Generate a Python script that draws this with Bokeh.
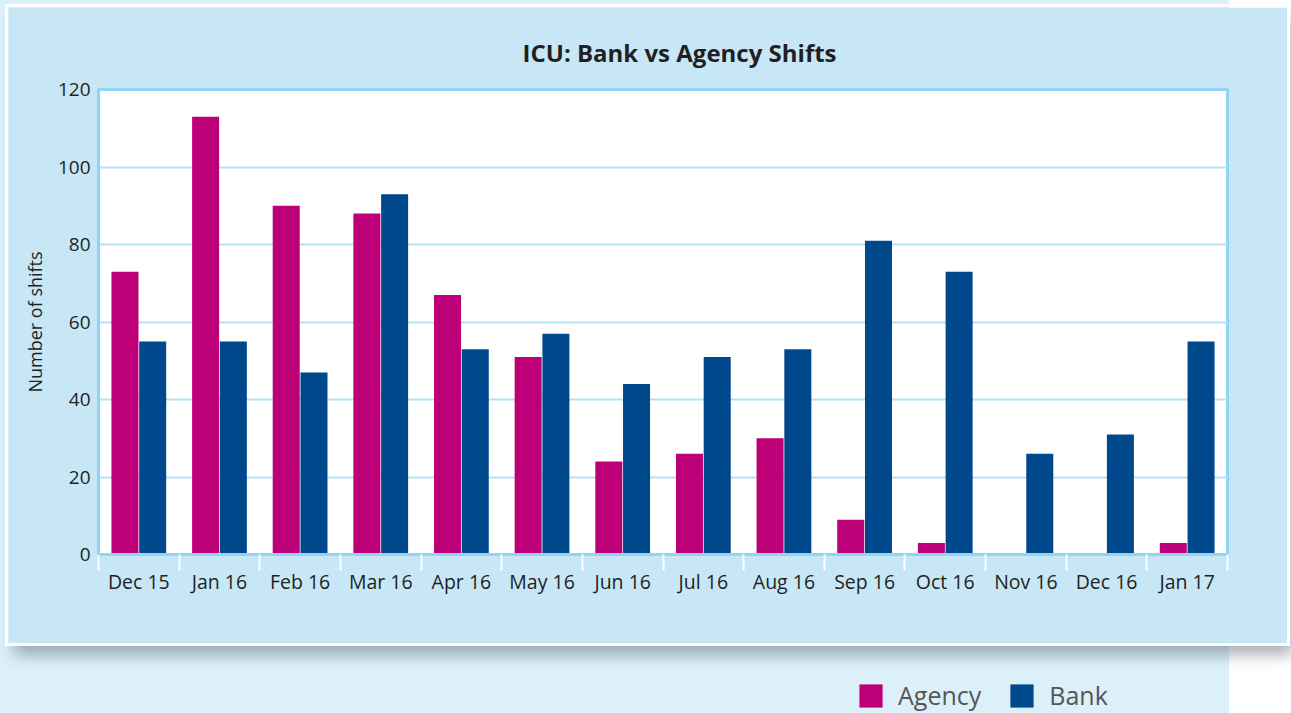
import numpy as np
from bokeh.plotting import figure
from bokeh.models import ColumnDataSource, Range1d, FixedTicker, Legend, LegendItem
from bokeh.layouts import column
from bokeh.transform import dodge
from bokeh.embed import file_html
from bokeh.resources import INLINE

# ---- data ----
months = ["Dec 15", "Jan 16", "Feb 16", "Mar 16", "Apr 16", "May 16", "Jun 16",
          "Jul 16", "Aug 16", "Sep 16", "Oct 16", "Nov 16", "Dec 16", "Jan 17"]
agency = [73, 113, 90, 88, 67, 51, 24, 26, 30, 9, 3, 0, 0, 3]
bank = [55, 55, 47, 93, 53, 57, 44, 51, 53, 81, 73, 26, 31, 55]
y_ticks = [0, 20, 40, 60, 80, 100, 120]
title_text = "ICU: Bank vs Agency Shifts"
y_label = "Number of shifts"

AGENCY_COLOR = "#bd0077"
BANK_COLOR = "#00488c"
PANEL = "#c7e7f7"
FRAME_LINE = "#92d5f2"
GRID = "#b3e2f6"
FONT = "Open Sans"

W = 1279
ML, MR = 90, 60

pos = [i + 0.5 for i in range(len(months))]
src = ColumnDataSource(dict(x=pos, month=months, agency=agency, bank=bank))

p = figure(width=W, height=636, output_backend="svg", toolbar_location=None,
           x_range=Range1d(0, len(months)), y_range=Range1d(0, 120),
           min_border_left=ML, min_border_right=MR, min_border_top=82, min_border_bottom=89)
p.border_fill_color = PANEL
p.background_fill_color = "white"
p.outline_line_color = FRAME_LINE
p.outline_line_width = 3
p.styles = {"box-shadow": "0 0 0 3px #ffffff, 6px 12px 14px rgba(70,85,95,0.45)"}

p.vbar(x=dodge("x", -0.172, range=p.x_range), top="agency", width=0.335, source=src,
       fill_color=AGENCY_COLOR, line_color=None)
p.vbar(x=dodge("x", 0.172, range=p.x_range), top="bank", width=0.335, source=src,
       fill_color=BANK_COLOR, line_color=None)

# title
p.title.text = title_text
p.title.text_font = FONT
p.title.text_font_size = "24px"
p.title.text_font_style = "bold"
p.title.text_color = "#231f20"
p.title.align = "left"
p.title.offset = 424
p.title.standoff = 42

# x axis
xa = p.xaxis[0]
xa.ticker = FixedTicker(ticks=pos, minor_ticks=list(range(len(months) + 1)))
xa.major_label_overrides = {x: m for x, m in zip(pos, months)}
xa.major_tick_line_color = None
xa.minor_tick_line_color = "white"
xa.minor_tick_line_width = 2
xa.minor_tick_out = 16
xa.minor_tick_in = 0
xa.major_tick_out = 0
xa.major_tick_in = 0
xa.major_label_standoff = -3
xa.axis_line_color = FRAME_LINE
xa.axis_line_width = 3
xa.major_label_text_font = FONT
xa.major_label_text_font_size = "19.5px"
xa.major_label_text_color = "#231f20"

# y axis
ya = p.yaxis[0]
ya.ticker = FixedTicker(ticks=y_ticks)
ya.major_tick_line_color = None
ya.minor_tick_line_color = None
ya.major_tick_out = 0
ya.major_tick_in = 0
ya.major_label_standoff = 8
ya.axis_line_color = FRAME_LINE
ya.axis_line_width = 3
ya.major_label_text_font = FONT
ya.major_label_text_font_size = "19px"
ya.major_label_text_color = "#231f20"
ya.axis_label = y_label
ya.axis_label_text_font = FONT
ya.axis_label_text_font_size = "18px"
ya.axis_label_text_font_style = "normal"
ya.axis_label_text_color = "#231f20"
ya.axis_label_standoff = 8

p.xgrid.grid_line_color = None
p.ygrid.grid_line_color = GRID
p.ygrid.grid_line_width = 2

# legend strip
p2 = figure(width=W, height=69, output_backend="svg", toolbar_location=None,
            x_range=Range1d(0, 1), y_range=Range1d(0, 1),
            min_border_left=ML, min_border_right=MR,
            min_border_top=0, min_border_bottom=0)
p2.axis.visible = False
p2.grid.visible = False
p2.outline_line_color = None
p2.background_fill_alpha = 0
p2.border_fill_alpha = 0
ra = p2.vbar(x="x", top="agency", width=0.3, source=src,
             fill_color=AGENCY_COLOR, line_color=None, visible=False)
rb = p2.vbar(x="x", top="bank", width=0.3, source=src,
             fill_color=BANK_COLOR, line_color=None, visible=False)
leg = Legend(items=[LegendItem(label="Agency", renderers=[ra]),
                    LegendItem(label="Bank", renderers=[rb])],
             orientation="horizontal", location=(856 - 8 - ML, 0),
             glyph_width=29, glyph_height=29, label_standoff=13, spacing=26,
             padding=0, margin=0, border_line_color=None,
             background_fill_alpha=0, inactive_fill_alpha=0,
             label_text_font=FONT, label_text_font_size="25px",
             label_text_color="#555555")
p2.add_layout(leg)

layout = column(p, p2, spacing=0)
layout.margin = (7, 0, 0, 8)
html = file_html(layout, INLINE)
css = ("<style>html, body { background: linear-gradient(to right, #dcf0fa 1229px, "
       "#ffffff 1229px) !important; }</style>")
html = html.replace("</head>", css + "</head>", 1)
open("out.html", "w").write(html)
